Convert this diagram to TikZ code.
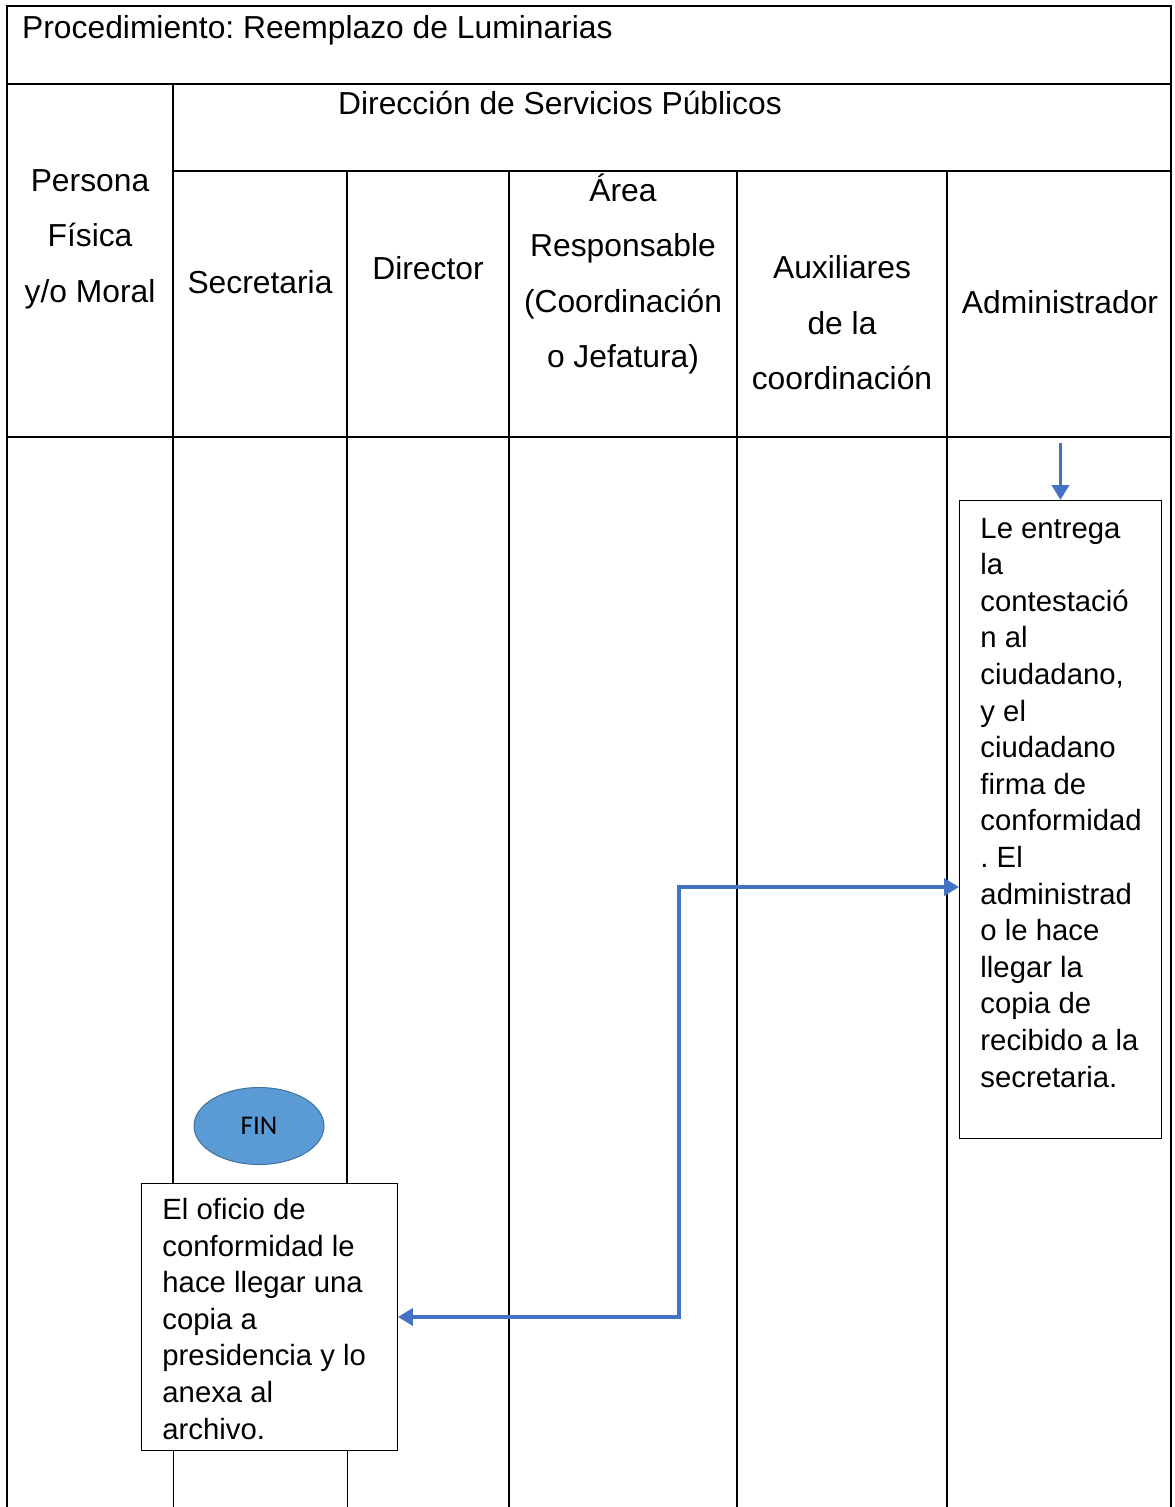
\documentclass[tikz,border=0pt]{standalone}
\usepackage{fontspec}
\setmainfont{Liberation Sans}
\newfontfamily\fincal{Carlito}
\usetikzlibrary{arrows.meta,shapes.geometric}
\definecolor{flowblue}{HTML}{4472C4}
\definecolor{finfill}{HTML}{5B9BD5}
\definecolor{finedge}{HTML}{41719C}
\frenchspacing
\begin{document}
\begin{tikzpicture}[x=1pt,y=-1pt,
  rule/.style={line width=1.8pt, black},
  thinrule/.style={line width=0.9pt, black},
  hdr/.style={font=\fontsize{31.8}{55.5}\selectfont, align=center, inner sep=0pt},
  stepbox/.style={draw, line width=0.9pt, fill=white, inner sep=0pt, anchor=north west,
    font=\fontsize{29.3}{36.6}\selectfont},
  flow/.style={draw=flowblue, line width=3.6pt},
  tipb/.tip={Triangle[length=15pt,width=17pt]},
]
\useasboundingbox (0,0) rectangle (1175,1507);

% table frame and lane dividers
\draw[rule] (7,1507) -- (7,6) -- (1171,6) -- (1171,1507);
\draw[rule] (7,84) -- (1171,84);
\draw[rule] (173,171) -- (1171,171);
\draw[rule] (7,437) -- (1171,437);
\draw[rule] (173,84) -- (173,1450);
\draw[rule] (347,171) -- (347,1450);
\draw[thinrule] (173,1450) -- (173,1507);
\draw[thinrule] (347,1450) -- (347,1507);
\draw[rule] (509,171) -- (509,1507);
\draw[rule] (737,171) -- (737,1507);
\draw[rule] (947,171) -- (947,1507);

% header texts
\node[hdr, anchor=base west] (title) at (22,38) {Procedimiento: Reemplazo de Luminarias};
\node[hdr, anchor=base west] (dsp) at (338,114) {Dirección de Servicios Públicos};
\node[hdr] (pfm) at (90,239) {Persona\\Física\\y/o Moral};
\node[hdr, anchor=base] (sec) at (260,293) {Secretaria};
\node[hdr, anchor=base] (dir) at (428,279) {Director};
\node[hdr] (area) at (623,274) {Área\\Responsable\\(Coordinación\\o Jefatura)};
\node[hdr] (aux) at (842,323) {Auxiliares\\de la\\coordinación};
\node[hdr, anchor=base] (adm-h) at (1060,313) {Administrador};

% process boxes
\node[stepbox] (adm) at (959,500) {\parbox[b][638pt][t]{202pt}{\leftskip=21pt\rightskip=0pt plus 1fil\parindent=0pt
  \vspace*{12pt}\strut Le entrega\\la\\contestació\\n al\\ciudadano,\\y el\\ciudadano\\firma de\\conformidad\\. El\\administrad\\o le hace\\llegar la\\copia de\\recibido a la\\secretaria.}};

\node[stepbox] (ofi) at (141,1183) {\parbox[b][267pt][t]{256pt}{\leftskip=21pt\rightskip=0pt plus 1fil\parindent=0pt
  \vspace*{10.5pt}\strut El oficio de\\conformidad le\\hace llegar una\\copia a\\presidencia y lo\\anexa al\\archivo.}};

\node[ellipse, draw=finedge, line width=1pt, fill=finfill, minimum width=130pt, minimum height=77pt,
  inner sep=0pt, font=\fincal\fontsize{27}{30}\selectfont] (fin) at (259,1126) {FIN};

% connectors
\coordinate (admin-in) at (adm.north |- 0,443);
\draw[flow, -tipb] (admin-in) -- (adm.north);
\draw[flow, tipb-tipb] (ofi.east) -- ++(281,0) |- (adm.west |- 0,887);
\end{tikzpicture}
\end{document}
